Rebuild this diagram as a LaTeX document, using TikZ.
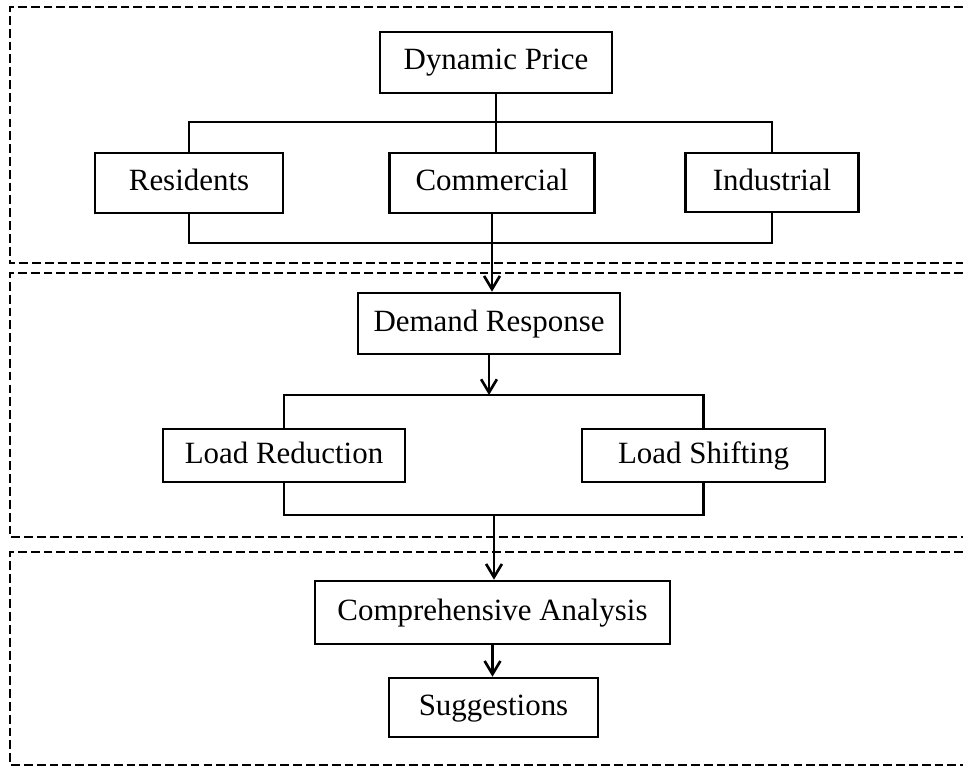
\documentclass[tikz,border=0pt]{standalone}
\usepackage{fontspec}
\setmainfont{Liberation Serif}
\usetikzlibrary{arrows.meta}

\begin{document}
\begin{tikzpicture}[x=0.02cm,y=-0.02cm,
  font=\fontsize{17.6}{21}\selectfont,
  box/.style={draw,line width=1.5pt,inner sep=0pt,minimum height=1.2cm,
    text height=0.42cm,text depth=0.12cm},
  frame/.style={line width=1.5pt,dash pattern=on 5pt off 2.3pt},
  link/.style={line width=1.5pt},
  flow/.style={link,-{Straight Barb[length=7.5pt,width=9pt]}}]
  \useasboundingbox (0,0) rectangle (963,767);

  \draw[frame] (963,7) -- (10,7) -- (10,263) -- (963,263);
  \draw[frame] (963,273) -- (10,273) -- (10,537) -- (963,537);
  \draw[frame] (963,552) -- (10,552) -- (10,765) -- (963,765);

  \node[box,minimum width=4.64cm,minimum height=1.22cm] (price) at (496,62.5) {Dynamic Price};
  \node[box,minimum width=3.76cm] (res) at (189,183) {Residents};
  \node[box,minimum width=4.1cm] (com) at (492,183) {Commercial};
  \node[box,minimum width=3.46cm,minimum height=1.18cm] (ind) at (772,182.5) {Industrial};
  \node[box,minimum width=5.24cm,minimum height=1.22cm] (resp) at (489,323.5) {Demand Response};
  \node[box,minimum width=4.84cm,minimum height=1.06cm] (red) at (284,455.5) {Load Reduction};
  \node[box,minimum width=4.86cm,minimum height=1.06cm] (shift) at (703.5,455.5) {Load Shifting};
  \node[box,minimum width=7.1cm,minimum height=1.26cm] (anal) at (492.5,612.5) {Comprehensive Analysis};
  \node[box,minimum width=4.18cm,minimum height=1.18cm] (sugg) at (493.5,707.5) {Suggestions};

  \coordinate (fork1) at (496,122);
  \coordinate (join1) at (492,243);
  \coordinate (fork2) at (489,395);
  \coordinate (join2) at (494,515);

  \draw[link] (price.south) -- (price.south |- com.north);
  \draw[link] (res.north) |- (fork1) -| (ind.north);
  \draw[link] (res.south) |- (join1) -| (ind.south);
  \draw[flow] (com.south) -- (com.south |- resp.north);
  \draw[flow] (resp.south) -- (fork2);
  \draw[link] (red.north) |- (fork2) -| (shift.north);
  \draw[link] (red.south) |- (join2) -| (shift.south);
  \draw[flow] (join2) -- (join2 |- anal.north);
  \draw[flow] (anal.south) -- (anal.south |- sugg.north);
\end{tikzpicture}
\end{document}
